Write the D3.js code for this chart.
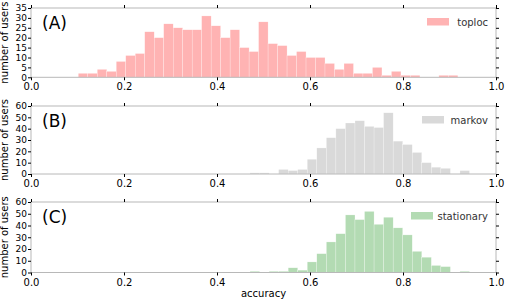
<!DOCTYPE html>
<html>
<head>
<meta charset="utf-8">
<script src="https://cdn.jsdelivr.net/npm/d3@7"></script>
<style>
  body { margin: 0; background: #fff; }
  text { font-family: "DejaVu Sans", sans-serif; }
</style>
</head>
<body>
<script>
// accuracy histograms, one panel per method
var xTicks = [0, 0.2, 0.4, 0.6, 0.8, 1.0];
var yTicksA = [0, 5, 10, 15, 20, 25, 30, 35];
var yTicksBC = [0, 10, 20, 30, 40, 50, 60];

var panelTags = ["(A)", "(B)", "(C)"];
var seriesNames = ["toploc", "markov", "stationary"];

// counts per bin, bins spread evenly over the range
var toplocRange = [0.1017, 0.918];
var toplocCounts = [2, 2, 4, 3, 8, 11, 12, 23, 20, 27, 25, 24, 24, 31, 26, 20, 24, 15, 13, 28,
                    17, 16, 11, 13, 10, 10, 7, 4, 7, 2, 2, 5, 1, 3, 1, 1, 0, 0, 1, 1];
var markovRange = [0.471, 0.943];
var markovCounts = [1, 1, 0, 4, 3, 4, 13, 23, 32, 40, 45, 47, 42, 41, 54, 29, 26, 19, 10, 6, 5, 0, 3];
var stationaryRange = [0.471, 0.943];
var stationaryCounts = [1, 0, 1, 1, 4, 2, 9, 16, 26, 33, 49, 45, 52, 41, 47, 38, 32, 18, 13, 6, 5, 0, 1];

var width = 506, height = 302;
var left = 31, right = 496;

var panels = [
  {top: 8,   bottom: 77.3,  yMax: 35, ticks: yTicksA,  range: toplocRange,     counts: toplocCounts,     color: "#ffb3b3", legendX: 427},
  {top: 106, bottom: 174,   yMax: 60, ticks: yTicksBC, range: markovRange,     counts: markovCounts,     color: "#d9d9d9", legendX: 422},
  {top: 202, bottom: 272.5, yMax: 60, ticks: yTicksBC, range: stationaryRange, counts: stationaryCounts, color: "#b3dbb3", legendX: 411}
];

var svg = d3.select("body").append("svg")
  .attr("width", width)
  .attr("height", height);

var x = d3.scaleLinear().domain([0, 1]).range([left, right]);

panels.forEach(function(p, k) {
  var y = d3.scaleLinear().domain([0, p.yMax]).range([p.bottom, p.top]);
  var g = svg.append("g");

  var n = p.counts.length;
  var step = (p.range[1] - p.range[0]) / n;
  var bins = p.counts.map(function(c, i) {
    return {x0: p.range[0] + i * step, x1: p.range[0] + (i + 1) * step, count: c};
  });

  g.selectAll("rect.bar").data(bins.filter(function(b) { return b.count > 0; })).enter()
    .append("rect")
    .attr("class", "bar")
    .attr("x", function(b) { return x(b.x0); })
    .attr("width", function(b) { return x(b.x1) - x(b.x0); })
    .attr("y", function(b) { return y(b.count); })
    .attr("height", function(b) { return p.bottom - y(b.count); })
    .attr("fill", p.color)
    .attr("stroke", "#fff")
    .attr("stroke-opacity", 0.6)
    .attr("stroke-width", 0.4);

  // frame
  g.append("rect")
    .attr("x", left).attr("y", p.top)
    .attr("width", right - left).attr("height", p.bottom - p.top)
    .attr("fill", "none").attr("stroke", "#b8b8b8").attr("stroke-width", 1);

  var bottomAxis = g.append("g")
    .attr("transform", "translate(0," + p.bottom + ")")
    .call(d3.axisBottom(x).tickValues(xTicks).tickFormat(d3.format(".1f")).tickSize(3).tickPadding(3));
  var topAxis = g.append("g")
    .attr("transform", "translate(0," + p.top + ")")
    .call(d3.axisTop(x).tickValues(xTicks).tickFormat("").tickSize(3));
  var leftAxis = g.append("g")
    .attr("transform", "translate(" + left + ",0)")
    .call(d3.axisLeft(y).tickValues(p.ticks).tickSize(3).tickPadding(1));
  var rightAxis = g.append("g")
    .attr("transform", "translate(" + right + ",0)")
    .call(d3.axisRight(y).tickValues(p.ticks).tickFormat("").tickSize(3));

  [bottomAxis, topAxis, leftAxis, rightAxis].forEach(function(a) {
    a.select(".domain").remove();
    a.selectAll("line").attr("stroke", "#000");
    a.selectAll("text").attr("fill", "#000").style("font-size", "10px")
      .style("font-family", "'DejaVu Sans', sans-serif");
  });
  leftAxis.selectAll("text").style("font-size", "9px");

  g.append("text")
    .attr("x", 42).attr("y", p.top + 21)
    .style("font-size", "17px")
    .attr("fill", "#000")
    .text(panelTags[k]);

  // legend
  g.append("rect")
    .attr("x", p.legendX).attr("y", p.top + 10)
    .attr("width", 22).attr("height", 7.5)
    .attr("fill", p.color);
  g.append("text")
    .attr("x", 488).attr("y", p.top + 17.5)
    .attr("text-anchor", "end")
    .style("font-size", "10px")
    .attr("fill", "#333")
    .text(seriesNames[k]);

  g.append("text")
    .attr("transform", "translate(8," + ((p.top + p.bottom) / 2) + ") rotate(-90)")
    .attr("text-anchor", "middle")
    .style("font-size", "10px")
    .attr("fill", "#000")
    .text("number of users");
});

svg.append("text")
  .attr("x", (left + right) / 2).attr("y", 297)
  .attr("text-anchor", "middle")
  .style("font-size", "10px")
  .attr("fill", "#000")
  .text("accuracy");
</script>
</body>
</html>
